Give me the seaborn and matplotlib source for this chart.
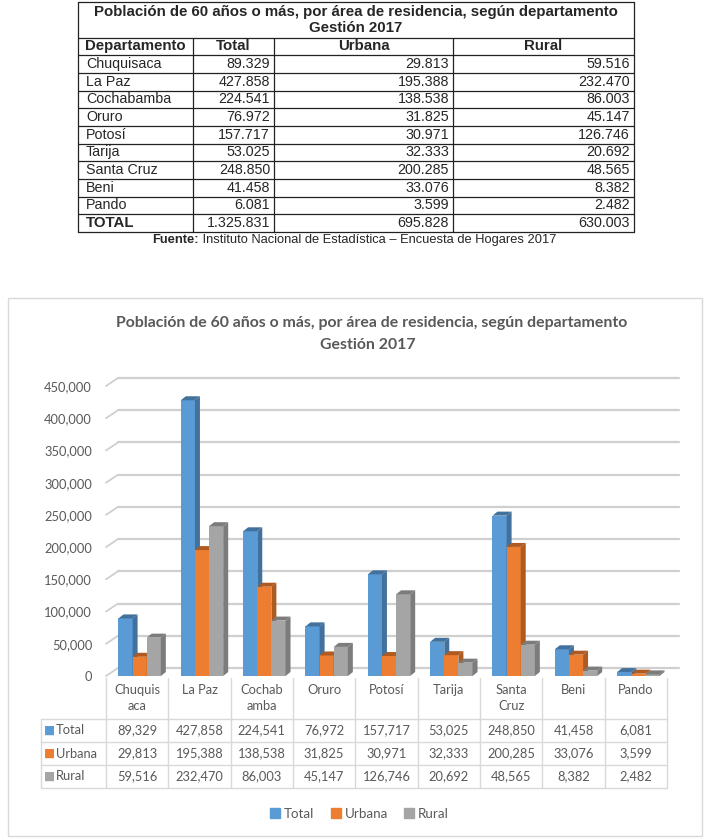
import matplotlib
matplotlib.use("Agg")
import matplotlib.pyplot as plt
import matplotlib.transforms as mtransforms
from matplotlib.lines import Line2D
from matplotlib.patches import Polygon, Rectangle
import seaborn as sns
import pandas as pd

# Datos
departamentos = ["Chuquisaca", "La Paz", "Cochabamba", "Oruro", "Potosí",
                 "Tarija", "Santa Cruz", "Beni", "Pando"]
etiquetas_eje = ["Chuquis\naca", "La Paz", "Cochab\namba", "Oruro", "Potosí",
                 "Tarija", "Santa\nCruz", "Beni", "Pando"]
total = [89329, 427858, 224541, 76972, 157717, 53025, 248850, 41458, 6081]
urbana = [29813, 195388, 138538, 31825, 30971, 32333, 200285, 33076, 3599]
rural = [59516, 232470, 86003, 45147, 126746, 20692, 48565, 8382, 2482]
series = ["Total", "Urbana", "Rural"]
yticks = [0, 50000, 100000, 150000, 200000, 250000, 300000, 350000, 400000, 450000]

titulo = "Población de 60 años o más, por área de residencia, según departamento"
subtitulo = "Gestión 2017"

colores = ["#5B9BD5", "#ED7D31", "#A5A5A5"]
lados = ["#41719C", "#AE5A21", "#7C7C7C"]
gris_texto = "#595959"

sns.set_style("white")
plt.rcParams['font.family'] = ['Lato', 'DejaVu Sans']

W, H = 711, 840
fig = plt.figure(figsize=(W / 100, H / 100), dpi=100)


def fx(x):
    return x / W


def fy(y):
    return 1 - y / H


def es(n):
    return f"{n:,}".replace(",", ".")


def hline(x0, x1, y, **kw):
    fig.add_artist(Line2D([fx(x0), fx(x1)], [fy(y), fy(y)], transform=fig.transFigure, **kw))


def vline(x, y0, y1, **kw):
    fig.add_artist(Line2D([fx(x), fx(x)], [fy(y0), fy(y1)], transform=fig.transFigure, **kw))


# ---------------- tabla superior ----------------
tfont = "Liberation Sans"
cols = [78, 193, 274, 453, 634]
t_top, t_title_bot, row_h = 2, 37.5, 17.67
filas = [("TOTAL", sum(total), sum(urbana), sum(rural))]
filas = list(zip(departamentos, total, urbana, rural)) + filas
t_bot = t_title_bot + row_h * (len(filas) + 1)
lk = dict(color="#222222", lw=0.9)

hline(cols[0], cols[-1], t_top, **lk)
hline(cols[0], cols[-1], t_title_bot, **lk)
for i in range(len(filas) + 1):
    hline(cols[0], cols[-1], t_title_bot + row_h * (i + 1), **lk)
vline(cols[0], t_top, t_bot, **lk)
vline(cols[-1], t_top, t_bot, **lk)
for c in cols[1:-1]:
    vline(c, t_title_bot, t_bot, **lk)

cx = (cols[0] + cols[-1]) / 2
fig.text(fx(cx), fy(12), titulo, ha="center", va="center", fontsize=10.8,
         fontweight="bold", family=tfont)
fig.text(fx(cx), fy(28.5), subtitulo, ha="center", va="center", fontsize=10.8,
         fontweight="bold", family=tfont)

yh = t_title_bot + row_h / 2
fig.text(fx(cols[0] + 7), fy(yh), "Departamento", ha="left", va="center",
         fontsize=10.8, fontweight="bold", family=tfont)
for j, nombre in enumerate(series):
    fig.text(fx((cols[j + 1] + cols[j + 2]) / 2), fy(yh), nombre, ha="center",
             va="center", fontsize=10.8, fontweight="bold", family=tfont)

for i, fila in enumerate(filas):
    yr = t_title_bot + row_h * (i + 1.5)
    negrita = "bold" if fila[0] == "TOTAL" else "normal"
    fig.text(fx(cols[0] + 8), fy(yr), fila[0], ha="left", va="center",
             fontsize=10.8 if negrita == "bold" else 10.3, fontweight=negrita,
             family=tfont)
    for j in range(3):
        fig.text(fx(cols[j + 2] - 4), fy(yr), es(fila[j + 1]), ha="right",
                 va="center", fontsize=10.3, family=tfont)

# Fuente
f1 = fig.text(0, fy(240), "Fuente:", ha="left", va="center", fontsize=9.3,
              fontweight="bold", family=tfont)
f2 = fig.text(0, fy(240), " Instituto Nacional de Estadística – Encuesta de Hogares 2017",
              ha="left", va="center", fontsize=9.3, family=tfont)
r = fig.canvas.get_renderer()
w1 = f1.get_window_extent(r).width
w2 = f2.get_window_extent(r).width
x_ini = 354 - (w1 + w2) / 2
f1.set_x(fx(x_ini))
f2.set_x(fx(x_ini + w1))

# ---------------- gráfico ----------------
fig.add_artist(Rectangle((fx(8), fy(836)), fx(702 - 8), (836 - 298) / H,
                         transform=fig.transFigure, fill=False,
                         edgecolor="#D9D9D9", lw=1))
fig.text(fx(372), fy(323), titulo, ha="center", va="center", fontsize=11.4,
         fontweight="bold", color=gris_texto)
fig.text(fx(368), fy(345), subtitulo, ha="center", va="center", fontsize=11.4,
         fontweight="bold", color=gris_texto)

ax = fig.add_axes([fx(106), fy(676), (667 - 106) / W, 290 / H])
df = pd.DataFrame({
    "Departamento": departamentos * 3,
    "Serie": [s for s in series for _ in departamentos],
    "Poblacion": total + urbana + rural,
})
sns.barplot(data=df, x="Departamento", y="Poblacion", hue="Serie",
            order=departamentos, hue_order=series, palette=colores,
            width=0.68, saturation=1, linewidth=0, legend=False, ax=ax)
ax.set_xlim(-0.5, len(departamentos) - 0.5)
ax.set_ylim(0, 450000)
ax.patch.set_alpha(0)
for s in ax.spines.values():
    s.set_visible(False)
ax.set_xticks([])
ax.set_yticks(yticks)
ax.set_yticklabels([f"{v:,}" for v in yticks], fontsize=9.3, color=gris_texto)
ax.tick_params(axis="y", length=0, pad=10)
ax.set_xlabel("")
ax.set_ylabel("")

# pared del fondo con las líneas de la cuadrícula
DX, DY = 12, 8
fondo = mtransforms.offset_copy(ax.transData, fig=fig, x=DX, y=DY, units="dots")
ident = mtransforms.IdentityTransform()
for v in yticks:
    ax.plot([-0.5, len(departamentos) - 0.5], [v, v], transform=fondo,
            color="#CFCFCF", lw=1.6, zorder=0.5, clip_on=False)
    p = ax.transData.transform((-0.5, v))
    ax.add_artist(Line2D([p[0], p[0] + DX], [p[1], p[1] + DY], transform=ident,
                         color="#CFCFCF", lw=1.3, zorder=0.5, clip_on=False))

# barras con profundidad
n = len(departamentos)
for i, bar in enumerate(ax.patches):
    k = i // n
    bar.set_x(bar.get_x() + 0.04)
    bar.set_zorder(3 + k)
    x0, y0 = ax.transData.transform((bar.get_x(), 0))
    x1, y1 = ax.transData.transform((bar.get_x() + bar.get_width(), bar.get_height()))
    lado = Polygon([(x1, y0), (x1 + 5, y0 + 4), (x1 + 5, y1 + 4), (x1, y1)],
                   closed=True, transform=ident, facecolor=lados[k], lw=0,
                   zorder=3 + k, clip_on=False)
    tapa = Polygon([(x0, y1), (x1, y1), (x1 + 5, y1 + 4), (x0 + 5, y1 + 4)],
                   closed=True, transform=ident, facecolor=lados[k], lw=0,
                   zorder=3 + k, clip_on=False)
    ax.add_artist(lado)
    ax.add_artist(tapa)

# tabla de datos debajo del gráfico
bt = mtransforms.blended_transform_factory(ax.transData, fig.transFigure)
gl = dict(color="#D9D9D9", lw=1)
x_fin = fig.transFigure.inverted().transform(ax.transData.transform((n - 0.5, 0)))[0] * W
for i in range(n + 1):
    ax.add_artist(Line2D([i - 0.5, i - 0.5], [fy(678), fy(788)], transform=bt,
                         clip_on=False, **gl))
vline(41, 719, 788, **gl)
for yl in [719, 742, 765, 788]:
    hline(41, x_fin, yl, **gl)

for i, et in enumerate(etiquetas_eje):
    ax.text(i, fy(684), et, transform=bt, ha="center", va="top", fontsize=9.3,
            color=gris_texto, linespacing=1.35)

for k, (nombre, valores) in enumerate(zip(series, [total, urbana, rural])):
    yr = 730.5 + 23 * k
    fig.text(fx(44), fy(yr), "■", ha="left", va="center", fontsize=8.5,
             color=colores[k], family="DejaVu Sans")
    fig.text(fx(56), fy(yr), nombre, ha="left", va="center", fontsize=9.3,
             color=gris_texto)
    for i, v in enumerate(valores):
        ax.text(i, fy(yr), f"{v:,}", transform=bt, ha="center", va="center",
                fontsize=9.3, color=gris_texto)

manijas = [Line2D([], [], marker="s", linestyle="", markersize=6.5, color=c,
                  label=s) for c, s in zip(colores, series)]
fig.legend(handles=manijas, loc="center", bbox_to_anchor=(fx(360), fy(814)),
           ncol=3, frameon=False, handlelength=0.6, handletextpad=0.35,
           columnspacing=1.3, prop={"family": "Lato", "size": 9.6},
           labelcolor=gris_texto)

fig.savefig("out.png", dpi=100)
